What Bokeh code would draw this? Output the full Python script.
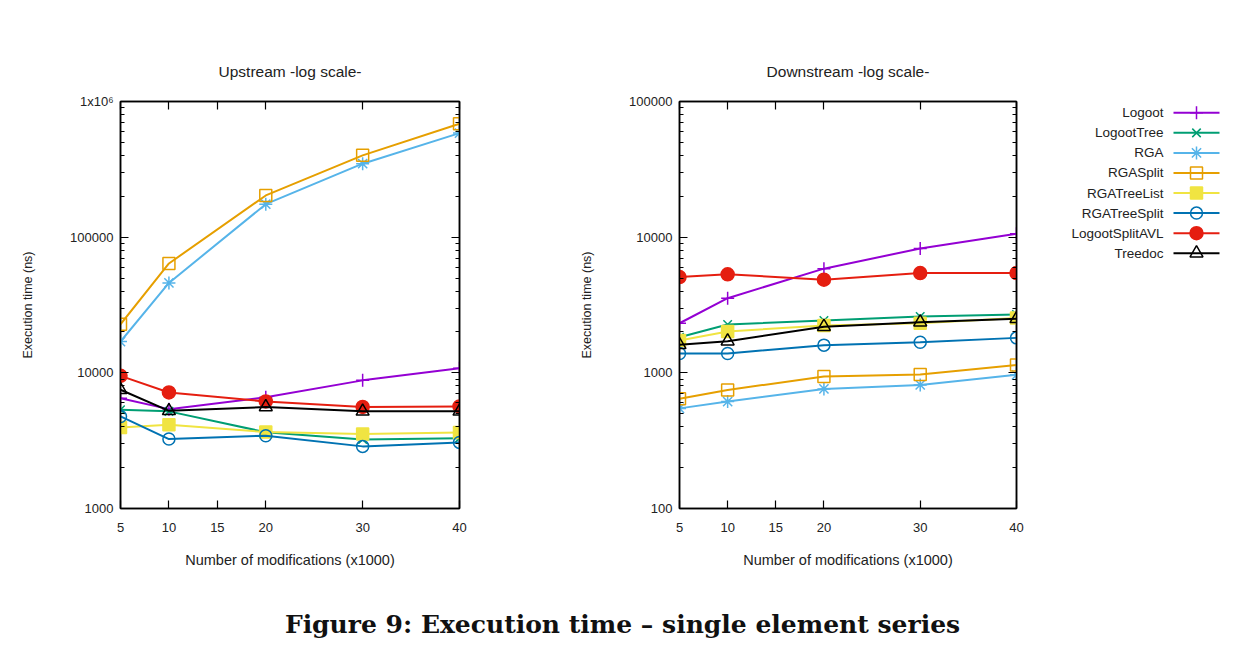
from bokeh.plotting import figure
from bokeh.models import Range1d, FixedTicker, LinearAxis, LogAxis, CustomJSTickFormatter
from bokeh.layouts import row, column
from bokeh.core.properties import value
from bokeh.embed import file_html
from bokeh.resources import INLINE

# ---------------- data ----------------
x_mods = [5, 10, 20, 30, 40]
x_ticks = [5, 10, 15, 20, 30, 40]

series = ["Logoot", "LogootTree", "RGA", "RGASplit", "RGATreeList",
          "RGATreeSplit", "LogootSplitAVL", "Treedoc"]

up_logoot = [6500, 5400, 6600, 8800, 10800]
up_logoottree = [5350, 5200, 3650, 3220, 3300]
up_rga = [17000, 46000, 175000, 348000, 585000]
up_rgasplit = [22800, 64000, 203000, 401000, 685000]
up_rgatreelist = [3960, 4150, 3660, 3540, 3640]
up_rgatreesplit = [4770, 3250, 3440, 2870, 3070]
up_logootsplitavl = [9500, 7170, 6150, 5600, 5650]
up_treedoc = [7500, 5250, 5600, 5200, 5200]

down_logoot = [2320, 3550, 5860, 8250, 10600]
down_logoottree = [1830, 2270, 2430, 2600, 2690]
down_rga = [547, 614, 761, 815, 967]
down_rgasplit = [645, 748, 940, 972, 1140]
down_rgatreelist = [1730, 2020, 2230, 2320, 2540]
down_rgatreesplit = [1390, 1390, 1600, 1680, 1810]
down_logootsplitavl = [5080, 5320, 4860, 5440, 5440]
down_treedoc = [1610, 1710, 2190, 2360, 2500]

upstream = [up_logoot, up_logoottree, up_rga, up_rgasplit, up_rgatreelist,
            up_rgatreesplit, up_logootsplitavl, up_treedoc]
downstream = [down_logoot, down_logoottree, down_rga, down_rgasplit, down_rgatreelist,
              down_rgatreesplit, down_logootsplitavl, down_treedoc]

colors = ["#9400d3", "#009e73", "#56b4e9", "#e69f00", "#f0e442",
          "#0072b2", "#e51e10", "#000000"]
markers = ["cross", "x", "asterisk", "square", "square", "circle", "circle", "triangle"]
filled = [False, False, False, False, True, False, True, False]
msizes = [13, 12, 13, 12, 12, 12, 13, 13]

FONT = "Liberation Sans"

# ---------------- layout constants (page pixels) ----------------
ROW_H = 590
FRAME_TOP = 101
FRAME_BOTTOM = 508


def decade_ticks(lo, hi):
    majors, minors = [], []
    d = lo
    while d <= hi:
        majors.append(d)
        if d < hi:
            minors.extend([d * k for k in range(2, 10)])
        d *= 10
    return majors, minors


def style_axis(ax, major_len=8, minor_len=4):
    ax.axis_line_color = "black"
    ax.axis_line_width = 1.5
    ax.major_tick_line_color = "black"
    ax.major_tick_line_width = 1.2
    ax.minor_tick_line_color = "black"
    ax.minor_tick_line_width = 1.2
    ax.major_tick_in = major_len
    ax.major_tick_out = 0
    ax.minor_tick_in = minor_len
    ax.minor_tick_out = 0
    ax.major_label_text_font = FONT
    ax.major_label_text_font_size = "13px"
    ax.major_label_text_color = "#222222"
    ax.axis_label_text_font = FONT
    ax.axis_label_text_font_size = "14.5px"
    ax.axis_label_text_font_style = "normal"
    ax.axis_label_text_color = "#222222"


def make_panel(title, data, ylo, yhi, width, mb_left, mb_right):
    p = figure(width=width, height=ROW_H, y_axis_type="log",
               x_range=Range1d(5, 40), y_range=Range1d(ylo, yhi),
               output_backend="svg", toolbar_location=None,
               min_border_left=mb_left, min_border_right=mb_right,
               min_border_top=FRAME_TOP, min_border_bottom=ROW_H - FRAME_BOTTOM)
    p.title.text = title
    p.title.align = "center"
    p.title.text_font = FONT
    p.title.text_font_size = "15.5px"
    p.title.text_font_style = "normal"
    p.title.text_color = "#222222"
    p.title.standoff = 44
    p.grid.visible = False
    p.outline_line_color = "black"
    p.outline_line_width = 1.5
    p.background_fill_color = "white"
    p.border_fill_color = "white"

    majors, minors = decade_ticks(ylo, yhi)
    yfmt = CustomJSTickFormatter(code="""
        if (tick >= 999999) { return "1x10\u2076"; }
        return tick.toFixed(0);
    """)
    p.xaxis.ticker = FixedTicker(ticks=x_ticks, minor_ticks=[])
    p.yaxis.ticker = FixedTicker(ticks=majors, minor_ticks=minors)
    p.yaxis.formatter = yfmt
    p.xaxis.axis_label = "Number of modifications (x1000)"
    p.yaxis.axis_label = "Execution time (ns)"
    style_axis(p.xaxis[0])
    style_axis(p.yaxis[0])
    p.yaxis.axis_label_text_font_size = "12.5px"
    p.xaxis.major_label_standoff = 14
    p.xaxis.axis_label_standoff = 17
    p.yaxis.major_label_standoff = 7
    p.yaxis.axis_label_standoff = 32

    empty = CustomJSTickFormatter(code="return '';")
    top = LinearAxis(ticker=FixedTicker(ticks=x_ticks, minor_ticks=[]), formatter=empty)
    style_axis(top)
    top.major_label_standoff = 0
    p.add_layout(top, "above")
    right = LogAxis(ticker=FixedTicker(ticks=majors, minor_ticks=minors), formatter=empty)
    style_axis(right)
    right.major_label_standoff = 0
    p.add_layout(right, "right")

    for ys, c, m, f, s in zip(data, colors, markers, filled, msizes):
        p.line(x_mods, ys, line_color=c, line_width=2)
        p.scatter(x_mods, ys, marker=m, size=s, line_color=c, line_width=1.5,
                  fill_color=c if f else None)
    return p


# left panel: page x 0..565, frame 120..459
p1 = make_panel("Upstream -log scale-", upstream, 1000, 1000000,
                width=565, mb_left=120, mb_right=106)
# right panel: page x 565..1060, frame 679..1016
p2 = make_panel("Downstream -log scale-", downstream, 100, 100000,
                width=495, mb_left=114, mb_right=44)

# ---------------- legend (label left, sample right, gnuplot style) ----------------
LX0, LX1 = 1060, 1245
pl = figure(width=LX1 - LX0, height=ROW_H,
            x_range=Range1d(LX0, LX1), y_range=Range1d(FRAME_BOTTOM, FRAME_TOP),
            x_axis_location=None, y_axis_location=None,
            min_border_left=0, min_border_right=0,
            min_border_top=FRAME_TOP, min_border_bottom=ROW_H - FRAME_BOTTOM,
            output_backend="svg", toolbar_location=None)
pl.grid.visible = False
pl.outline_line_color = None
row_y = [112.3 + 20.06 * i for i in range(len(series))]
pl.text(x=[1163] * len(series), y=row_y, text=series, text_align="right",
        text_baseline="middle", text_font=value(FONT), text_font_size="13.5px",
        text_color="#222222")
for yy, c, m, f, s in zip(row_y, colors, markers, filled, msizes):
    pl.line([1173, 1219], [yy, yy], line_color=c, line_width=2)
    pl.scatter([1196], [yy], marker=m, size=s, line_color=c, line_width=1.5,
               fill_color=c if f else None)

# ---------------- caption ----------------
CW, CY0, CY1 = 1245, 590, 650
pc = figure(width=CW, height=CY1 - CY0, x_range=Range1d(0, CW), y_range=Range1d(CY1, CY0),
            x_axis_location=None, y_axis_location=None, min_border=0,
            output_backend="svg", toolbar_location=None)
pc.grid.visible = False
pc.outline_line_color = None
pc.text(x=[622], y=[624], text=["Figure 9: Execution time \u2013 single element series"],
        text_align="center", text_baseline="middle",
        text_font=value("DejaVu Serif"), text_font_style="bold",
        text_font_size="25px", text_color="#111111")

layout = column(row(p1, p2, pl), pc)
open("out.html", "w").write(file_html(layout, INLINE))
